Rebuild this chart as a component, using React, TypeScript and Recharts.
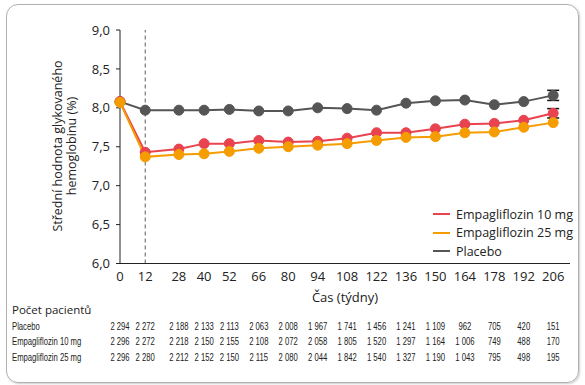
import { ErrorBar, Line, LineChart, ReferenceLine, XAxis, YAxis } from 'recharts';

const weeks = [0, 12, 28, 40, 52, 66, 80, 94, 108, 122, 136, 150, 164, 178, 192, 206];
const yTicks = [6, 6.5, 7, 7.5, 8, 8.5, 9];

const placebo = [8.08, 7.97, 7.97, 7.97, 7.98, 7.96, 7.96, 8.0, 7.99, 7.97, 8.06, 8.09, 8.1, 8.04, 8.08, 8.16];
const empa10 = [8.08, 7.43, 7.47, 7.54, 7.54, 7.58, 7.56, 7.57, 7.61, 7.68, 7.68, 7.73, 7.79, 7.8, 7.84, 7.93];
const empa25 = [8.07, 7.37, 7.4, 7.41, 7.44, 7.48, 7.5, 7.52, 7.54, 7.58, 7.62, 7.63, 7.68, 7.69, 7.75, 7.81];
const placeboErr = [null, null, null, null, null, null, null, null, null, null, null, null, null, null, null, 0.065];
const empa10Err = [null, null, null, null, null, null, null, null, null, null, null, null, null, null, null, 0.06];

const nPlacebo = ['2 294', '2 272', '2 188', '2 133', '2 113', '2 063', '2 008', '1 967', '1 741', '1 456', '1 241', '1 109', '962', '705', '420', '151'];
const nEmpa10 = ['2 296', '2 272', '2 218', '2 150', '2 155', '2 108', '2 072', '2 058', '1 805', '1 520', '1 297', '1 164', '1 006', '749', '488', '170'];
const nEmpa25 = ['2 296', '2 280', '2 212', '2 152', '2 150', '2 115', '2 080', '2 044', '1 842', '1 540', '1 327', '1 190', '1 043', '795', '498', '195'];

const RED = '#e8434f';
const ORANGE = '#f59c00';
const GRAY = '#555555';
const TEXT = '#222';
const FONT = '"Open Sans", "Noto Sans", sans-serif';
const NARROW = '"Liberation Sans", Arial, sans-serif';

const data = weeks.map((w, i) => ({
  week: w,
  placebo: placebo[i],
  empa10: empa10[i],
  empa25: empa25[i],
  placeboErr: placeboErr[i],
  empa10Err: empa10Err[i],
}));

const legendItems = [
  { label: 'Empagliflozin 10 mg', color: RED },
  { label: 'Empagliflozin 25 mg', color: ORANGE },
  { label: 'Placebo', color: GRAY },
];

// stacked bottom axes are ordered by id
const rows = [
  { id: 'r1', label: 'Placebo', values: nPlacebo },
  { id: 'r2', label: 'Empagliflozin 10 mg', values: nEmpa10 },
  { id: 'r3', label: 'Empagliflozin 25 mg', values: nEmpa25 },
];

function rowTick(values: string[]) {
  return (props: any) => {
    const idx = weeks.indexOf(props.payload.value);
    return (
      <text
        transform={`translate(${props.x},${props.y + 11}) scale(0.7,1)`}
        textAnchor="middle"
        fontSize={11}
        fontFamily={NARROW}
        fill={TEXT}
      >
        {values[idx]}
      </text>
    );
  };
}

function rowLabel(text: string) {
  return (props: any) => (
    <text
      transform={`translate(12,${props.viewBox.y + 11}) scale(0.7,1)`}
      fontSize={11}
      fontFamily={NARROW}
      fill={TEXT}
    >
      {text}
    </text>
  );
}

export default function App() {
  return (
    <div style={{ position: 'absolute', left: 0, top: 0, width: 585, height: 385, background: '#fff' }}>
      <div
        style={{
          position: 'absolute',
          left: 6,
          top: 4,
          width: 571,
          height: 377,
          border: '1px solid #b0b0b0',
          borderRadius: 12,
          boxShadow: '1px 1px 2px rgba(0,0,0,0.2)',
        }}
      />
      <div style={{ position: 'absolute', left: 0, top: 0 }}>
        <LineChart width={585} height={385} data={data} margin={{ top: 30, right: 15, bottom: 20, left: 0 }}>
          <XAxis
            dataKey="week"
            type="number"
            domain={[0, 214]}
            ticks={weeks}
            interval={0}
            height={55}
            stroke={TEXT}
            tickLine={false}
            tick={{ fontSize: 13, fill: TEXT, fontFamily: FONT }}
            label={{
              content: () => (
                <g>
                  <text x={345} y={302} textAnchor="middle" fontSize={13} fontFamily={FONT} fill={TEXT}>
                    Čas (týdny)
                  </text>
                  <text x={12} y={314} fontSize={11.5} fontFamily={FONT} fill={TEXT}>
                    Počet pacientů
                  </text>
                </g>
              ),
            }}
          />
          {rows.map((r) => (
            <XAxis
              key={r.id}
              xAxisId={r.id}
              dataKey="week"
              type="number"
              domain={[0, 214]}
              ticks={weeks}
              interval={0}
              height={15.5}
              axisLine={false}
              tickLine={false}
              tickSize={0}
              tickMargin={0}
              tick={rowTick(r.values)}
              label={{ content: rowLabel(r.label) }}
            />
          ))}
          <YAxis
            type="number"
            domain={[6, 9]}
            ticks={yTicks}
            interval={0}
            width={120}
            stroke={TEXT}
            tickSize={4}
            tickMargin={6}
            tick={{ fontSize: 13, fill: TEXT, fontFamily: FONT }}
            tickFormatter={(v: number) => v.toFixed(1).replace('.', ',')}
            label={{
              content: () => (
                <g fontSize={12.5} fontFamily={FONT} fill={TEXT} textAnchor="middle">
                  <text transform="translate(62,146) rotate(-90)">Střední hodnota glykovaného</text>
                  <text transform="translate(76,146) rotate(-90)">hemoglobinu (%)</text>
                </g>
              ),
            }}
          />
          <ReferenceLine x={12} stroke="#333" strokeDasharray="4 3" strokeWidth={0.8} />
          <Line
            dataKey="placebo"
            stroke={GRAY}
            strokeWidth={2}
            dot={{ r: 5, fill: GRAY, stroke: GRAY, strokeWidth: 1 }}
            isAnimationActive={false}
          >
            <ErrorBar dataKey="placeboErr" stroke="#111" strokeWidth={1.5} width={6} />
          </Line>
          <Line
            dataKey="empa10"
            stroke={RED}
            strokeWidth={2}
            dot={{ r: 5, fill: RED, stroke: RED, strokeWidth: 1 }}
            isAnimationActive={false}
          >
            <ErrorBar dataKey="empa10Err" stroke="#111" strokeWidth={1.5} width={6} />
          </Line>
          <Line
            dataKey="empa25"
            stroke={ORANGE}
            strokeWidth={2}
            dot={{ r: 5, fill: ORANGE, stroke: ORANGE, strokeWidth: 1 }}
            isAnimationActive={false}
          />
        </LineChart>
      </div>
      <div style={{ position: 'absolute', left: 433, top: 205, fontFamily: FONT, fontSize: 12.5, color: TEXT }}>
        {legendItems.map((it) => (
          <div key={it.label} style={{ display: 'flex', alignItems: 'center', height: 18.5 }}>
            <span style={{ width: 17, height: 2, background: it.color, marginRight: 6 }} />
            <span>{it.label}</span>
          </div>
        ))}
      </div>
    </div>
  );
}
